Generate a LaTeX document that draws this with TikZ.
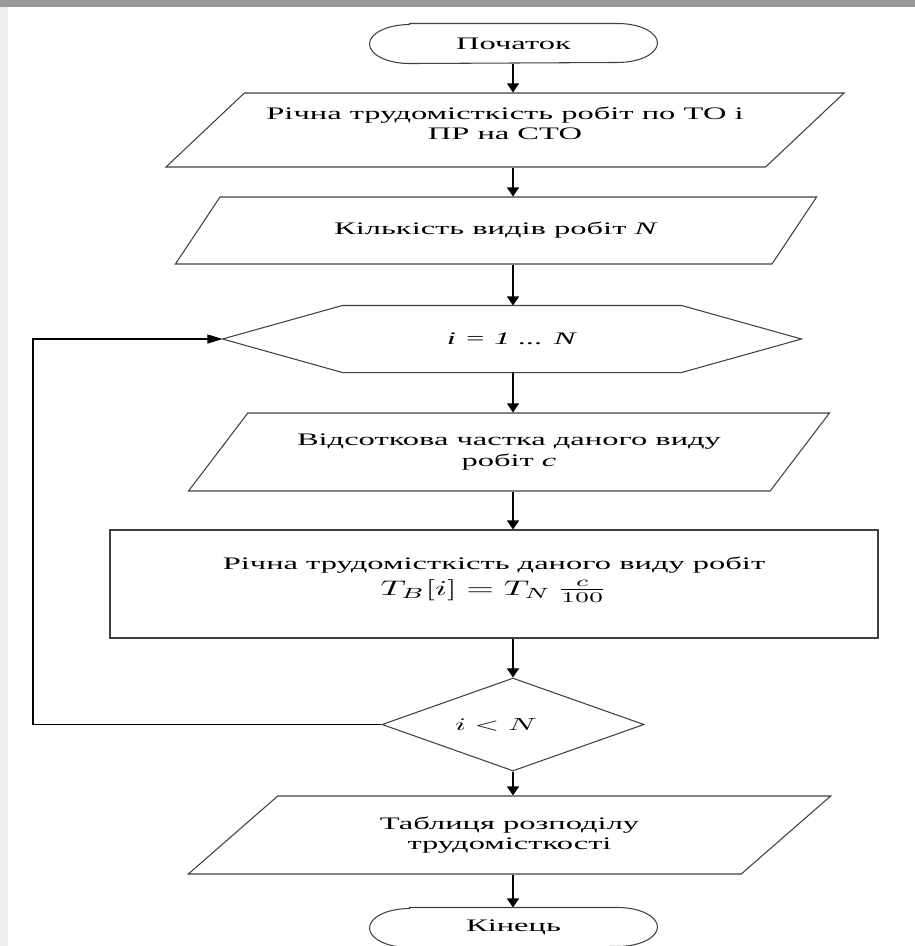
\documentclass[tikz,border=0pt]{standalone}
\usepackage{fontspec}
\setmainfont{Liberation Serif}[FakeStretch=1.85]
\usepackage{graphicx}
\usetikzlibrary{shapes.geometric,arrows.meta,calc}

\newcommand{\wmath}[2][1.8]{\scalebox{#1}[1]{$#2$}}

\begin{document}
\begin{tikzpicture}[x=0.2mm,y=-0.2mm]
\tikzset{
  blk/.style={line width=0.6pt,font=\fontsize{10}{11.6}\selectfont,align=center,inner sep=0pt},
  io/.style={blk,draw=black!75,trapezium,trapezium stretches=true},
  term/.style={blk,rectangle,minimum width=5.74cm,minimum height=0.78cm},
  arr/.style={line width=0.6pt,-{Triangle[length=0.18cm,width=0.24cm]}},
  outline/.style={draw=black!75,line width=0.6pt}
}
\useasboundingbox (0,0) rectangle (915,946);
% remains of the page behind the scheme
\fill[black!40] (0,0) rectangle (915,7);
\fill[black!7] (0,7) rectangle (8,946);

\node[term] (start) at (513.5,43.5) {Початок};
\node[io,minimum width=13.6cm,minimum height=1.48cm,trapezium left angle=33.2,trapezium right angle=146.8] (in1) at (505,130) {Річна трудомісткість робіт по ТО і\\ПР на СТО\rule[-0.28cm]{0pt}{0pt}};
\node[io,minimum width=12.84cm,minimum height=1.34cm,trapezium left angle=32,trapezium right angle=148] (in2) at (496,230.5) {Кількість видів робіт \textit{N}};
\node[blk,rectangle,minimum width=11.56cm,minimum height=1.32cm] (loop) at (512,339) {\textit{i = 1 ... N}};
\node[io,minimum width=12.84cm,minimum height=1.56cm,trapezium left angle=36.6,trapezium right angle=143.4] (in3) at (509,452) {Відсоткова частка даного виду\\робіт \textit{c}};
\node[blk,draw=black!75,rectangle,minimum width=15.36cm,minimum height=2.16cm] (calc) at (494,584) {Річна трудомісткість даного виду робіт\\[3pt]\scalebox{2}[1.2]{$T_B[i] = T_N\,\frac{c}{100}$}\rule[-0.32cm]{0pt}{0pt}};
\node[blk,draw=black!75,diamond,aspect=2.8,minimum width=5.24cm,minimum height=1.86cm] (chk) at (513,724.5) {\wmath{i < N}\rule{0.68cm}{0pt}};
\node[io,minimum width=12.86cm,minimum height=1.56cm,trapezium left angle=36.3,trapezium right angle=143.7] (out) at (509.5,835) {Таблиця розподілу\\трудомісткості};
\node[term] (end) at (513.5,927.5) {Кінець};

% terminals and loop head
\foreach \n in {start,end}
  \draw[outline] ([xshift=0.8cm]\n.north west) -- ([xshift=-0.8cm]\n.north east)
    arc[start angle=90,end angle=-90,x radius=0.8cm,y radius=0.39cm]
    -- ([xshift=0.8cm]\n.south west)
    arc[start angle=270,end angle=90,x radius=0.8cm,y radius=0.39cm] -- cycle;
\draw[outline] (loop.west) -- ([xshift=2.4cm]loop.north west) -- ([xshift=-2.4cm]loop.north east)
  -- (loop.east) -- ([xshift=-2.4cm]loop.south east) -- ([xshift=2.4cm]loop.south west) -- cycle;

\coordinate (ax) at (513,0);
\coordinate (back) at (33,0);
\foreach \a/\b in {start/in1,in1/in2,in2/loop,loop/in3,in3/calc,calc/chk,chk/out,out/end}
  \draw[arr] (ax |- \a.south) -- (ax |- \b.north);
\draw[line width=0.6pt,-{Triangle[length=0.3cm,width=0.18cm]}] (chk.west) -- (back |- chk.west) |- (loop.west);
\end{tikzpicture}
\end{document}
